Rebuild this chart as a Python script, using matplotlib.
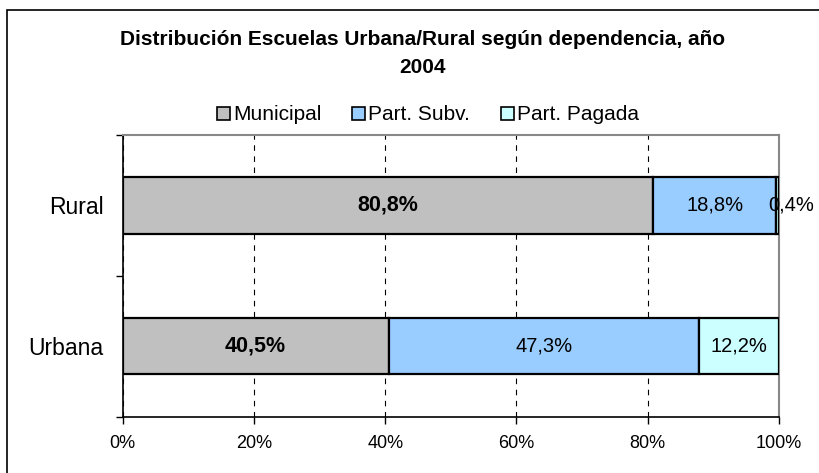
import matplotlib
matplotlib.use("Agg")
import matplotlib.pyplot as plt
from matplotlib.patches import Rectangle
import numpy as np

plt.rcParams['font.family'] = ['Liberation Sans', 'DejaVu Sans']

categories = ["Urbana", "Rural"]
series_names = ["Municipal", "Part. Subv.", "Part. Pagada"]
municipal = [40.5, 80.8]
part_subv = [47.3, 18.8]
part_pagada = [12.2, 0.4]
xtick_values = [0, 20, 40, 60, 80, 100]
xtick_labels = ["0%", "20%", "40%", "60%", "80%", "100%"]
title_lines = ["Distribución Escuelas Urbana/Rural según dependencia, año", "2004"]

colors = ["#C0C0C0", "#99CCFF", "#CCFFFF"]

W, H = 820, 473
fig = plt.figure(figsize=(W / 100, H / 100), dpi=100)
ax = fig.add_axes([122.7 / W, (H - 416.7) / H, (779 - 122.7) / W, (416.7 - 135) / H])

ypos = np.arange(len(categories))
series = [municipal, part_subv, part_pagada]
left = np.zeros(len(categories))
for si, (name, vals, col) in enumerate(zip(series_names, series, colors)):
    vals = np.array(vals)
    ax.barh(ypos, vals, left=left, height=0.4, color=col, edgecolor='black',
            linewidth=1.6, label=name, zorder=3)
    for i, v in enumerate(vals):
        cx = left[i] + v / 2
        txt = f"{v:.1f}%".replace('.', ',')
        if si == 0:
            weight, fs = 'bold', 15.5
        else:
            weight, fs = 'normal', 14.5
        if v < 2:
            ax.annotate(txt, xy=(cx, ypos[i]), xytext=(9.5, 0), textcoords='offset points',
                        ha='center', va='center', fontsize=fs, fontweight=weight,
                        annotation_clip=False, zorder=5)
        else:
            ax.text(cx, ypos[i], txt, ha='center', va='center', fontsize=fs,
                    fontweight=weight, zorder=5)
    left = left + vals

ax.set_xlim(0, 100)
ax.set_ylim(-0.5, len(categories) - 0.5)
ax.set_xticks(xtick_values)
ax.set_xticklabels(xtick_labels, fontsize=13)
ax.tick_params(axis='x', direction='out', length=5, width=1, pad=8, color='black')
ax.set_yticks(np.arange(-0.5, len(categories), 1.0))
ax.set_yticklabels([])
ax.set_yticks(ypos, minor=True)
ax.set_yticklabels(categories, minor=True, fontsize=16.5)
ax.tick_params(axis='y', which='major', direction='out', length=5, width=1)
ax.tick_params(axis='y', which='minor', length=0, pad=14)

ax.grid(axis='x', color='black', linestyle=(0, (5, 5)), linewidth=0.8, zorder=0)
ax.grid(axis='y', visible=False)
for s in ['top', 'right']:
    ax.spines[s].set_color('#888888')
    ax.spines[s].set_linewidth(1.5)
for s in ['left', 'bottom']:
    ax.spines[s].set_color('black')
    ax.spines[s].set_linewidth(1.2)

baselines = [45, 73]
for line, yb in zip(title_lines, baselines):
    fig.text(422.5 / W, 1 - yb / H, line, ha='center', va='baseline', fontsize=15,
             fontweight='bold')

handles, labels = ax.get_legend_handles_labels()
leg = fig.legend(handles, labels, loc='center', bbox_to_anchor=(428 / W, 1 - 115 / H),
                 ncol=3, frameon=False, fontsize=15, handlelength=0.6, handleheight=0.6,
                 handletextpad=0.15, columnspacing=1.5, borderpad=0, borderaxespad=0)
for h in leg.legend_handles:
    h.set_linewidth(1.2)

fig.patches.append(Rectangle((7 / W, -0.2), 1.2, 1.2 - 10 / H, transform=fig.transFigure,
                             fill=False, edgecolor='black', linewidth=1.2))

fig.savefig("out.png", dpi=100)
